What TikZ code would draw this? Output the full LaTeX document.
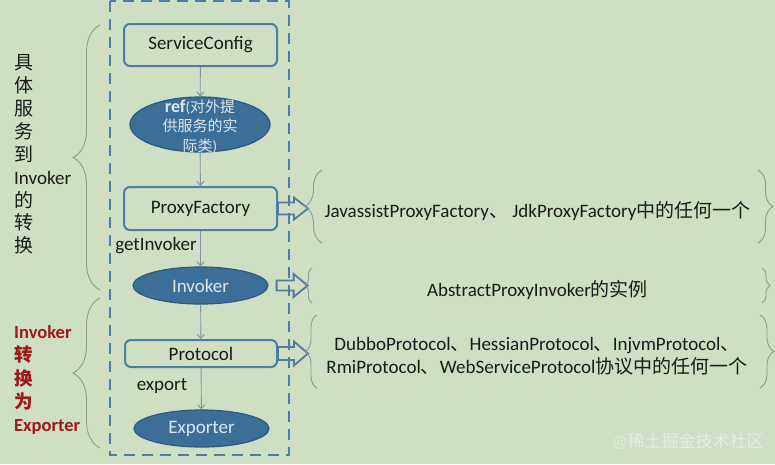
\documentclass[tikz,border=0pt]{standalone}
\usepackage{fontspec}
\setmainfont{Carlito}
\newfontfamily\cjkfont{Noto Sans CJK SC}
\newcommand\zh[1]{{\cjkfont #1}}
\usetikzlibrary{shapes.geometric,arrows.meta,decorations.pathreplacing,calc}
\definecolor{bg}{HTML}{CEDFC4}
\definecolor{bord}{HTML}{4D7CA4}
\definecolor{ellfill}{HTML}{3D6E98}
\definecolor{elldraw}{HTML}{2C5A80}
\definecolor{conn}{HTML}{7D93A4}
\definecolor{brc}{HTML}{8C9C8E}
\definecolor{txt}{HTML}{1A1A1A}
\definecolor{ltxt}{HTML}{DCE6EE}
\definecolor{red1}{HTML}{9E1A1A}
\definecolor{wm}{HTML}{E6EDE2}
\begin{document}
\begin{tikzpicture}[x=1pt,y=-1pt,
  box/.style={draw=bord, line width=2pt, rounded corners=6pt, fill=bg, text=txt,
    font=\fontsize{19}{23}\selectfont, inner sep=0pt},
  ell/.style={ellipse, draw=elldraw, line width=1.2pt, fill=ellfill, text=ltxt,
    inner sep=0pt, font=\fontsize{19}{23}\selectfont},
  connector/.style={draw=conn, line width=0.9pt, -{Straight Barb[length=4pt,width=7pt]}},
  hollow/.style={draw=bord, fill=bg, line width=1.8pt, line join=miter},
  mybrace/.style={draw=brc, line width=0.9pt, decorate, decoration={brace, amplitude=#1}},
  lbl/.style={text=txt, font=\fontsize{19}{23}\selectfont, inner sep=0pt},
  dashbox/.style={draw=bord, line width=2pt, dash pattern=on 11pt off 7pt},
]
\useasboundingbox[fill=bg] (0,0) rectangle (775,464);

% nodes of the chain
\node[box, minimum width=153pt, minimum height=42pt] (sc) at (200.5,45) {ServiceConfig};
\node[ell, minimum width=140pt, minimum height=55pt] (ref) at (200,124.5) {};
\node[text=ltxt, align=center, font=\fontsize{15}{19.5}\selectfont, inner sep=0pt]
  (reft) at ($(ref.center)+(0,2)$) {{\bfseries\fontsize{18}{19.5}\selectfont ref}(\zh{对外提}\\\zh{供服务的实}\\\zh{际类})};
\node[box, minimum width=153pt, minimum height=43pt] (pf) at (200.5,208.5) {ProxyFactory};
\node[ell, minimum width=135pt, minimum height=37pt] (inv) at (200.5,285.5) {Invoker};
\node[box, minimum width=152pt, minimum height=27pt] (proto) at (201,353.5) {Protocol};
\node[ell, minimum width=135pt, minimum height=37pt] (exp) at (201.5,428.5) {Exporter};

\node[lbl] (gi) at (156,246) {getInvoker};
\node[lbl] (ex) at (162,386) {export};

% connectors
\draw[connector] (sc) -- (ref);
\draw[connector] (ref) -- (pf);
\draw[connector] (pf) -- (inv);
\draw[connector] (inv) -- (proto);
\draw[connector] (proto) -- (exp);

% hollow arrows
\draw[hollow] (pf.east) ++(0,-6) -- ++(16,0) -- ++(0,-5) -- ++(14,11) -- ++(-14,11)
  -- ++(0,-5) -- ++(-16,0) -- cycle;
\draw[hollow] ($(inv.east)+(8,0)$) ++(0,-5) -- ++(17,0) -- ++(0,-6.5) -- ++(14,11.5)
  -- ++(-14,11.5) -- ++(0,-6.5) -- ++(-17,0) -- cycle;
\draw[hollow] (proto.east) ++(0,-6.5) -- ++(16,0) -- ++(0,-5.5) -- ++(14,12) -- ++(-14,12)
  -- ++(0,-5.5) -- ++(-16,0) -- cycle;

% dashed frame
\draw[dashbox] (110,1) rectangle (289,455);

% left texts
\node[text=txt, align=left, inner sep=0pt, font=\fontsize{19}{22.9}\selectfont, anchor=west]
  (lt) at (14,154.5) {\zh{具}\\\zh{体}\\\zh{服}\\\zh{务}\\\zh{到}\\Invoker\\\zh{的}\\\zh{转}\\\zh{换}};
\node[text=red1, align=left, inner sep=0pt, font=\bfseries\fontsize{18.5}{23.2}\selectfont, anchor=west]
  (rt) at (14,380) {Invoker\\\zh{转}\\\zh{换}\\\zh{为}\\Exporter};

% left braces
\draw[mybrace=27pt] (100,290) -- (100,25);
\draw[mybrace=27pt] (100,448) -- (100,298);

% right texts
\node[lbl] (t1) at (537.5,211) {JavassistProxyFactory\zh{、} JdkProxyFactory\zh{中的任何一个}};
\node[lbl] (t2) at (537.5,290) {AbstractProxyInvoker\zh{的实例}};
\node[lbl, align=center] (t3) at (537,356.5)
  {DubboProtocol\zh{、}HessianProtocol\zh{、}InjvmProtocol\zh{、}\\RmiProtocol\zh{、}WebServiceProtocol\zh{协议中的任何一个}};

% right braces
\draw[mybrace=17pt] (322,243) -- (322,170);
\draw[mybrace=7pt] (312,303) -- (312,268);
\draw[mybrace=12pt] (317,388) -- (317,315);
\draw[mybrace=15pt] (758,170) -- (758,243);
\draw[mybrace=8pt] (762,268) -- (762,303);
\draw[mybrace=14pt] (760,315) -- (760,388);

% watermark
\node[text=wm, font=\fontsize{17}{20}\selectfont, inner sep=0pt] (wmk) at (688,441) {@\zh{稀土掘金技术社区}};
\end{tikzpicture}
\end{document}
